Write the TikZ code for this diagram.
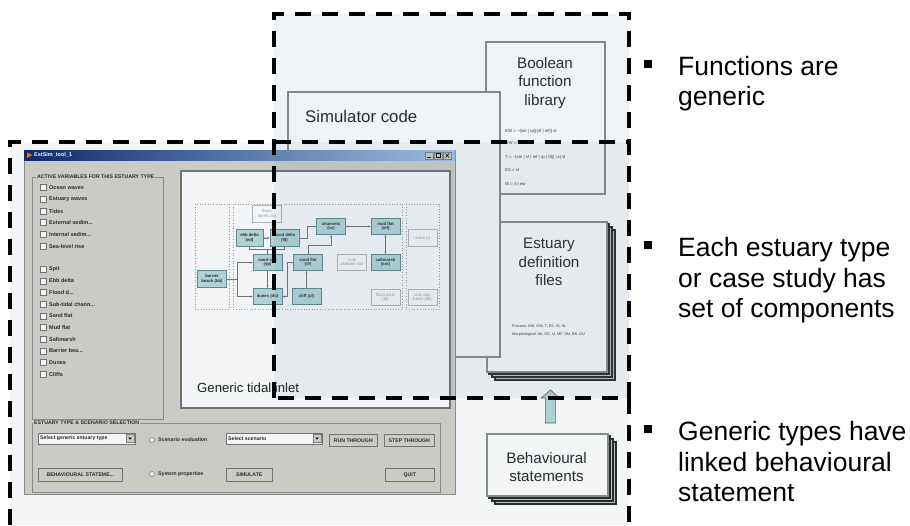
\documentclass[tikz,border=0pt]{standalone}
\usepackage{fontspec}
\setmainfont{Liberation Sans}
\usetikzlibrary{calc,arrows.meta}
\definecolor{ovl}{RGB}{85,125,145}
\definecolor{docline}{RGB}{138,138,138}
\definecolor{winbg}{RGB}{212,208,200}
\definecolor{tealfill}{RGB}{183,216,220}
\definecolor{tealline}{RGB}{95,135,140}
\definecolor{titleA}{RGB}{10,36,106}
\definecolor{titleB}{RGB}{166,202,240}
\definecolor{arrowfill}{RGB}{180,215,218}
\newcommand\myddd{...}
\begin{document}
\begin{tikzpicture}[x=1pt,y=-1pt,
  doc/.style={draw=docline, line width=1.8pt, fill=white, inner sep=0pt, anchor=north west},
  stackbox/.style={draw=black!85, line width=1.1pt, fill=gray!45},
  doctxt/.style={font=\fontsize{15.2}{18.5}\selectfont, align=center, text=black!85, inner sep=0pt},
  tinytxt/.style={font=\fontsize{4.3}{5}\selectfont, anchor=west, text=black!80, inner sep=0pt},
  bul/.style={font=\fontsize{26.5}{30}\selectfont, anchor=base west, inner sep=0pt, text=black},
  bulsq/.style={fill=black, minimum size=8pt, inner sep=0pt},
  dashline/.style={draw=black, line width=3.5pt, dash pattern=on 16pt off 11pt},
  comp/.style={draw=tealline, line width=0.6pt, fill=tealfill, font=\fontsize{4.2}{4.8}\selectfont\bfseries, align=center, minimum width=29pt, minimum height=16.5pt, inner sep=0pt, text=black!85},
  gcomp/.style={comp, fill=white, draw=gray!55, text=gray!75, font=\fontsize{4.2}{4.8}\selectfont},
  dotbox/.style={draw=gray!75, dotted, line width=0.7pt},
  link/.style={draw=black!55, line width=0.45pt},
  >={Stealth[length=2.4pt,width=2pt]},
  ui/.style={font=\fontsize{5.2}{6}\selectfont\bfseries, inner sep=0pt, text=black!85},
  btn/.style={fill=winbg, draw=black!55, line width=0.6pt, ui, anchor=north west},
  field/.style={fill=white, draw=black!55, line width=0.6pt, anchor=north west, inner sep=0pt},
  chk/.style={fill=white, draw=black!55, line width=0.5pt, minimum size=6pt, inner sep=0pt},
  radio/.style={circle, fill=white, draw=black!55, line width=0.5pt, minimum size=5pt, inner sep=0pt},
]
\useasboundingbox (0,0) rectangle (910,525);
\fill[white] (0,0) rectangle (910,525);

% ---------- estuary definition files (stack) ----------
\foreach \d in {9,6,3} \draw[stackbox] (486+\d,221+\d) rectangle (606+\d,371+\d);
\node[doc, minimum width=120pt, minimum height=150pt] (est) at (486,221) {};
\node[doctxt] (estt) at (549,262) {Estuary\\definition\\files};
\node[tinytxt, font=\fontsize{3.8}{4.5}\selectfont] (estp) at (512,326) {Process: EW, OW, T, ES, IS, SL};
\node[tinytxt, font=\fontsize{3.8}{4.5}\selectfont] (estm) at (512,335) {Morphological: bb, ED, sf, MF, SM, BB, DU};

% ---------- boolean function library ----------
\node[doc, minimum width=119pt, minimum height=152pt] (bool) at (485,41) {};
\node[doctxt] (boolt) at (545,83) {Boolean\\function\\library};
\node[tinytxt] (f1) at (505,131) {EW = \textasciitilde(sm | rp)|(sf | mf)| sl};
\node[tinytxt] (f2) at (505,143) {OW = bb};
\node[tinytxt] (f3) at (505,157) {T = \textasciitilde(sm | sf | mf | rp | fd)| cc| sl};
\node[tinytxt] (f4) at (505,170) {ES = sl};
\node[tinytxt] (f5) at (505,184) {IS = rl | ew};

% ---------- simulator code ----------
\node[doc, minimum width=212pt, minimum height=265pt] (sim) at (287,91) {};
\node[font=\fontsize{16.8}{20}\selectfont, anchor=west, inner sep=0pt, text=black!85] (simt) at (305,116) {Simulator code};

% ---------- behavioural statements (stack) ----------
\foreach \d in {9,6,3} \draw[stackbox] (486+\d,433+\d) rectangle (607+\d,495+\d);
\node[doc, minimum width=121pt, minimum height=62pt] (beh) at (486,433) {};
\node[doctxt] (beht) at (546.5,467) {Behavioural\\statements};

% block arrow from behavioural statements up to estuary files
\coordinate (ab) at ($(beh.north)+(3,-10)$);
\coordinate (at) at ($(beh.north)+(3,-43)$);
\draw[fill=arrowfill, draw=gray!70!black, line width=0.6pt]
  (ab) ++(-5,0) -- ++(0,-25) -- ++(-4,0) -- (at) -- ++(9,8) -- ++(-4,0) -- ++(0,25) -- cycle;

% ---------- window screenshot ----------
\node[fill=winbg, draw=black!45, line width=0.6pt, minimum width=431pt, minimum height=344pt, anchor=north west, inner sep=0pt] (win) at (24,150) {};
\shade[left color=titleA, right color=titleB] (24,150) rectangle (455,160);
\fill[orange!85!red] (27,152.5) -- (32.5,155) -- (27,158) -- cycle;
\node[font=\fontsize{5.5}{6}\selectfont\bfseries, text=white, anchor=west, inner sep=0pt] (wtitle) at (34,155) {EstSim\_tool\_1};
\foreach \bx/\nm in {425/wmin,434/wmax,443/wcls}
  \node[fill=winbg, draw=black!50, line width=0.4pt, minimum width=8pt, minimum height=7pt, inner sep=0pt, anchor=north west] (\nm) at (\bx,152) {};
\draw[black, line width=0.6pt] (427,157.5) -- (430.5,157.5);
\draw[black, line width=0.5pt] (436,153.5) rectangle (440,157.5);
\draw[black, line width=0.6pt] (445.5,153.5) -- (449,157.5) (449,153.5) -- (445.5,157.5);

% group 1
\draw[black!45, line width=0.5pt] (32,177) rectangle (163,419);
\node[ui, fill=winbg, anchor=west, inner xsep=1pt] (grp1) at (36,177) {ACTIVE VARIABLES FOR THIS ESTUARY TYPE};
\foreach \t [count=\i from 0] in {{Ocean waves},{Estuary waves},{Tides},{External sedim\myddd},{Internal sedim\myddd},{Sea-level rise}}{
  \node[chk] (cka\i) at (43,187.7+11.67*\i) {};
  \node[ui, anchor=west, font=\fontsize{5.5}{6}\selectfont\bfseries] (cla\i) at (49,187.7+11.67*\i) {\t};
}
\foreach \t [count=\i from 0] in {{Spit},{Ebb delta},{Flood d\myddd},{Sub-tidal chann\myddd},{Sand flat},{Mud flat},{Saltmarsh},{Barrier bea\myddd},{Dunes},{Cliffs}}{
  \node[chk] (ckb\i) at (43,269.3+11.67*\i) {};
  \node[ui, anchor=west, font=\fontsize{5.5}{6}\selectfont\bfseries] (clb\i) at (49,269.3+11.67*\i) {\t};
}

% group 2
\draw[black!45, line width=0.5pt] (32,423) rectangle (440,492);
\node[ui, fill=winbg, anchor=west, inner xsep=1pt] (grp2) at (33,423) {ESTUARY TYPE \& SCENARIO SELECTION};
\node[field, minimum width=97pt, minimum height=11pt] (dd1) at (38,433) {};
\node[ui, anchor=west] (dd1t) at (40,438.5) {Select generic estuary type};
\draw[fill=winbg, draw=black!50, line width=0.4pt] (126,434.5) rectangle (134,442.5);
\fill[black] (128.2,437.5) -- (131.8,437.5) -- (130,439.7) -- cycle;
\node[radio] (rd1) at (152,440) {};
\node[ui, anchor=west] (rd1t) at (158,440) {Scenario evaluation};
\node[field, minimum width=96pt, minimum height=11pt] (dd2) at (226,433) {};
\node[ui, anchor=west] (dd2t) at (228,438.5) {Select scenario};
\draw[fill=winbg, draw=black!50, line width=0.4pt] (313,434.5) rectangle (321,442.5);
\fill[black] (315.2,437.5) -- (318.8,437.5) -- (317,439.7) -- cycle;
\node[btn, minimum width=48pt, minimum height=12pt] (run) at (329,434) {RUN THROUGH};
\node[btn, minimum width=50pt, minimum height=12pt] (step) at (384,434) {STEP THROUGH};
\node[btn, minimum width=84pt, minimum height=13pt] (bst) at (38,468) {BEHAVIOURAL STATEME\myddd};
\node[radio] (rd2) at (152,474) {};
\node[ui, anchor=west] (rd2t) at (158,474) {System properties};
\node[btn, minimum width=46pt, minimum height=13pt] (simb) at (226,468) {SIMULATE};
\node[btn, minimum width=49pt, minimum height=13pt] (quit) at (385,468) {QUIT};

% panel
\node[fill=white, draw=black!55, line width=1.5pt, minimum width=269pt, minimum height=237pt, anchor=north west, inner sep=0pt] (panel) at (180,170) {};
\node[font=\fontsize{13.2}{15}\selectfont, anchor=base west, inner sep=0pt, text=black!90] (gti) at (197,392) {Generic tidal inlet};

% inner diagram
\draw[dotbox] (195,204) rectangle (229,309);
\draw[dotbox] (233,204) rectangle (402,309);
\draw[dotbox] (406,204) rectangle (439,309);
\node[gcomp] (lb) at (267,214) {linear\\banks (lb)};
\node[comp, minimum width=27pt] (ed) at (249.5,238) {ebb delta\\(ed)};
\node[comp] (fd) at (284.5,238) {flood delta\\(fd)};
\node[comp] (cc) at (331,226.5) {channels\\(cc)};
\node[comp] (mf) at (385.5,226.5) {mud flat\\(mf)};
\node[comp] (sp) at (267.5,262.5) {sand spit\\(sp)};
\node[comp] (sf) at (308,262.5) {sand flat\\(sf)};
\node[gcomp] (rp) at (352,262.5) {rock\\platform (rp)};
\node[comp] (sm) at (385.5,262.5) {saltmarsh\\(sm)};
\node[comp] (bb) at (212,279) {barrier\\beach (bb)};
\node[comp] (du) at (267.5,296.5) {dunes (du)};
\node[comp] (cf) at (306.5,296.5) {cliff (cf)};
\node[gcomp] (fp) at (385.5,297.5) {flood plain\\(fp)};
\node[gcomp] (rv) at (422.5,238) {rivers (r)};
\node[gcomp] (db) at (422.5,297.5) {drainage\\basin (db)};

\draw[link,<->] (ed) -- (fd);
\draw[link,->] (fd.east) -- ++(8,0) |- (cc.west);
\draw[link,<->] (cc) -- (mf);
\draw[link,<->] (mf) -- (sm);
\draw[link,->] (sf.north) -- ++(0,-9) -| (cc.south);
\draw[link,->] (ed.south) -- ++(0,3) -| (sp.north);
\draw[link] (fd.south) -- ++(0,3) -| (sp.north);
\draw[link,->] (bb.east) -- ++(10,0) |- (sp.west);
\draw[link,->] (bb.east) -- ++(10,0) |- (du.west);
\draw[link,->] (sp.south) -- (du.north);
\draw[link,->] (sf.west) -- ++(-6,0) |- (du.east);
\draw[link,->] (cf.north) -- (cf.north |- sf.south);

% ---------- translucent region fills ----------
\fill[ovl, opacity=0.09] (274,14) rectangle (629,398);
\fill[ovl, opacity=0.07] (10,142) rectangle (629,525);

% ---------- dashed region outlines ----------
\draw[dashline] (274,398) -- (274,14) -- (629,14) -- (629,398) -- cycle;
\draw[dashline] (10,525) -- (10,142) -- (629,142);
\draw[dashline] (629,398) -- (629,525);

% ---------- bullets ----------
\node[bulsq] (sq1) at (647.5,64) {};
\node[bul] (t1a) at (678,75) {Functions are};
\node[bul] (t1b) at (678,105) {generic};
\node[bulsq] (sq2) at (647.5,245) {};
\node[bul] (t2a) at (678,256) {Each estuary type};
\node[bul] (t2b) at (678,287) {or case study has};
\node[bul] (t2c) at (678,317) {set of components};
\node[bulsq] (sq3) at (647.5,429) {};
\node[bul] (t3a) at (678,440) {Generic types have};
\node[bul] (t3b) at (678,471) {linked behavioural};
\node[bul] (t3c) at (678,501) {statement};
\end{tikzpicture}
\end{document}
